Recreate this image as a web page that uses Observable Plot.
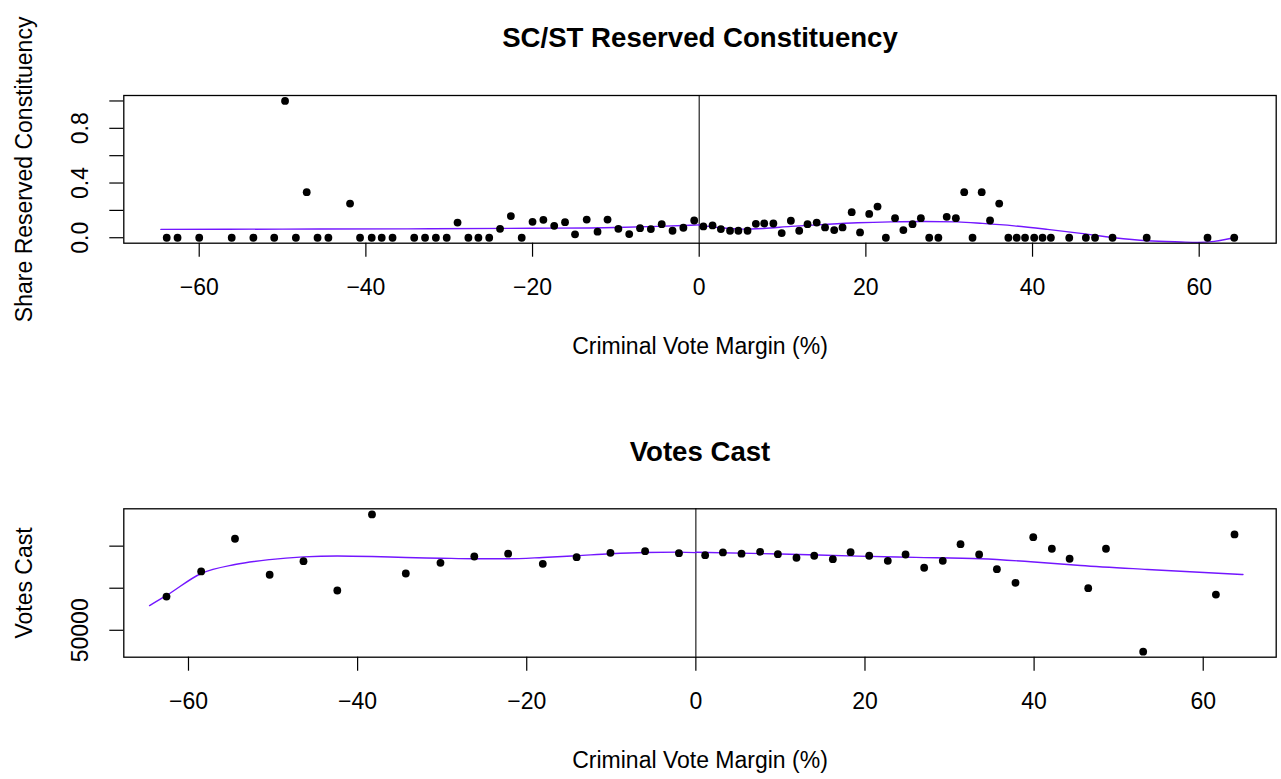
<!DOCTYPE html>
<html>
<head>
<meta charset="utf-8">
<script src="https://cdn.jsdelivr.net/npm/d3@7"></script>
<script src="https://cdn.jsdelivr.net/npm/@observablehq/plot@0.6"></script>
<style>
  html, body { margin: 0; padding: 0; background: #fff; }
  #chart svg { display: block; }
</style>
</head>
<body>
<div id="chart"></div>
<script>
// ---- Panel 1: share of SC/ST reserved constituencies by criminal vote margin ----
const shareMargin = [
  -63.9, -62.6, -60.0, -56.1, -53.5, -51.0, -49.7, -48.4, -47.1, -45.8, -44.5, -41.9,
  -40.7, -39.3, -38.1, -36.8, -34.2, -32.9, -31.6, -30.3, -29.0, -27.7, -26.5, -25.2,
  -23.9, -22.6, -21.3, -20.0, -18.7, -17.4, -16.1, -14.9, -13.5, -12.2, -11.0, -9.7,
  -8.4, -7.1, -5.8, -4.5, -3.2, -1.9, -0.6,
  0.5, 1.6, 2.6, 3.7, 4.7, 5.8, 6.8, 7.8, 8.9, 9.9, 11.0, 12.0, 13.0, 14.1, 15.1,
  16.2, 17.2, 18.3, 19.3, 20.4, 21.4, 22.4, 23.5, 24.5, 25.6, 26.6, 27.6, 28.7,
  29.7, 30.8, 31.8, 32.8, 33.9, 34.9, 36.0, 37.1, 38.1, 39.1, 40.2, 41.2, 42.2,
  44.4, 46.4, 47.5, 49.6, 53.7, 61.0, 64.2
];
const shareValue = [
  0, 0, 0, 0, 0, 0, 1.0, 0, 0.333, 0, 0, 0.25,
  0, 0, 0, 0, 0, 0, 0, 0, 0.111, 0, 0, 0,
  0.065, 0.158, 0, 0.116, 0.131, 0.087, 0.114, 0.025, 0.133, 0.044, 0.133, 0.065,
  0.027, 0.070, 0.063, 0.099, 0.051, 0.073, 0.126,
  0.083, 0.090, 0.063, 0.051, 0.051, 0.051, 0.102, 0.104, 0.104, 0.034, 0.124, 0.051, 0.099, 0.111, 0.075,
  0.056, 0.075, 0.187, 0.039, 0.174, 0.228, 0, 0.143, 0.056, 0.099, 0.143, 0, 0,
  0.153, 0.143, 0.333, 0, 0.333, 0.126, 0.25, 0, 0, 0, 0, 0, 0,
  0, 0, 0, 0, 0, 0, 0
];
// Smoothed fit, drawn separately on each side of the zero margin
const shareFitMargin = [-64.6, -50, -35, -20, -10, -5, 0,
                         0, 2.6, 5, 7.7, 11, 15, 19, 23, 27, 31, 34, 37.8, 41.8, 45.8, 49.8, 53.8, 57.8, 59.8, 61.8, 64.6];
const shareFitValue  = [0.061, 0.063, 0.065, 0.069, 0.075, 0.083, 0.094,
                         0.092, 0.073, 0.063, 0.068, 0.083, 0.097, 0.109, 0.116, 0.119, 0.116, 0.105, 0.087, 0.061, 0.032, 0.0, -0.022, -0.031, -0.034, -0.027, 0.005];
const shareFitSide   = ["L", "L", "L", "L", "L", "L", "L",
                         "R", "R", "R", "R", "R", "R", "R", "R", "R", "R", "R", "R", "R", "R", "R", "R", "R", "R", "R", "R"];
const shareTicks = [0, 0.2, 0.4, 0.6, 0.8, 1.0];
const shareTickLabels = ["0.0", "0.4", "0.8"];
const shareLabelledTicks = [0, 0.4, 0.8];

// ---- Panel 2: votes cast by criminal vote margin ----
const votesMargin = [
  -62.6, -58.5, -54.5, -50.4, -46.4, -42.4, -38.3, -34.3, -30.2, -26.2, -22.2, -18.1,
  -14.1, -10.1, -6.0, -2.0,
  1.1, 3.2, 5.4, 7.6, 9.7, 11.9, 14.0, 16.2, 18.3, 20.5, 22.7, 24.8, 27.0, 29.2,
  31.3, 33.5, 35.6, 37.8, 39.9, 42.1, 44.2, 46.4, 48.5, 52.9, 61.5, 63.7
];
const votesValue = [
  90100, 119900, 158800, 116000, 132100, 97300, 187700, 117500, 130200, 137700, 141000, 129000,
  136900, 142100, 144000, 141700,
  139300, 142500, 141000, 143300, 140500, 136200, 138600, 134500, 142900, 138600, 132600, 140100, 124300, 132600,
  152400, 140100, 122600, 106400, 160700, 146900, 135000, 100000, 146900, 24600, 92500, 163900
];
const votesFitMargin = [-64.6, -62.5, -58.5, -54.5, -50.4, -46.4, -42.4, -38.3, -34.3, -30.2, -26.2, -22.2, -18.1, -14.1, -10.1, -6.0, -2.0, 0,
                         0, 10, 19.1, 26, 33.7, 40, 45.5, 53.4, 64.7];
const votesFitValue  = [79400, 92000, 117500, 128200, 134000, 137200, 138300, 137700, 136500, 135700, 135000, 135000, 136500, 138600, 141000, 142500, 142900, 142300,
                         142700, 140700, 138100, 136700, 135000, 131200, 127000, 122300, 116300];
const votesFitSide   = ["L", "L", "L", "L", "L", "L", "L", "L", "L", "L", "L", "L", "L", "L", "L", "L", "L", "L",
                         "R", "R", "R", "R", "R", "R", "R", "R", "R"];
const votesTicks = [50000, 100000, 150000];
const votesTickLabels = ["50000"];
const votesLabelledTicks = [50000];

const marginTicks = [-60, -40, -20, 0, 20, 40, 60];

// ---- shared styling ----
const FONT = "'Liberation Sans', Arial, Helvetica, sans-serif";
const FIT_COLOR = "#7316ff";
const fmtMargin = d => (d < 0 ? "\u2212" : "") + Math.abs(d);

function panel({title, yLabel, points, fit, xDomain, yDomain, yTicks, yLabelled, yLabelText,
                height, marginTop, marginBottom}) {
  return Plot.plot({
    width: 1281,
    height,
    marginLeft: 123.3,
    marginRight: 5.3,
    marginTop,
    marginBottom,
    style: {fontFamily: FONT, fontSize: "23px", color: "black", background: "white"},
    x: {domain: xDomain},
    y: {domain: yDomain},
    marks: [
      Plot.ruleX([0], {stroke: "#222", strokeWidth: 1.2}),
      Plot.line(fit, {x: "x", y: "y", z: "side", stroke: FIT_COLOR, strokeWidth: 1.4, curve: "monotone-x"}),
      Plot.dot(points, {x: "x", y: "y", r: 3.9, fill: "black", stroke: null}),
      Plot.frame({stroke: "black", strokeWidth: 1.3}),
      Plot.axisX({ticks: marginTicks, tickFormat: fmtMargin, tickSize: 14, tickPadding: 21,
                  fontSize: 23, label: null, strokeWidth: 1.2}),
      Plot.axisY({ticks: yTicks, tickFormat: () => "", tickSize: 14, label: null, strokeWidth: 1.2}),
      Plot.text(yLabelled, {y: d => d, frameAnchor: "left", dx: -43.3, rotate: -90,
                            text: (d, i) => yLabelText[i], fontSize: 23, lineAnchor: "middle", textAnchor: "middle"}),
      Plot.text([yLabel], {frameAnchor: "left", dx: -99.5, rotate: -90, fontSize: 23,
                           lineAnchor: "middle", textAnchor: "middle"}),
      Plot.text(["Criminal Vote Margin (%)"], {frameAnchor: "bottom", dy: 103, fontSize: 23,
                                               lineAnchor: "middle", textAnchor: "middle"}),
      Plot.text([title], {frameAnchor: "top", dy: -57, fontSize: 27.6, fontWeight: "bold",
                          lineAnchor: "middle", textAnchor: "middle"})
    ]
  });
}

const sharePoints = shareMargin.map((m, i) => ({x: m, y: shareValue[i]}));
const shareFit = shareFitMargin.map((m, i) => ({x: m, y: shareFitValue[i], side: shareFitSide[i]}));
const votesPoints = votesMargin.map((m, i) => ({x: m, y: votesValue[i]}));
const votesFit = votesFitMargin.map((m, i) => ({x: m, y: votesFitValue[i], side: votesFitSide[i]}));

const root = document.getElementById("chart");
root.append(panel({
  title: "SC/ST Reserved Constituency",
  yLabel: "Share Reserved Constituency",
  points: sharePoints, fit: shareFit,
  xDomain: [-69.05, 69.24], yDomain: [-0.04, 1.04],
  yTicks: shareTicks, yLabelled: shareLabelledTicks, yLabelText: shareTickLabels,
  height: 414, marginTop: 95, marginBottom: 171.3
}));
root.append(panel({
  title: "Votes Cast",
  yLabel: "Votes Cast",
  points: votesPoints, fit: votesFit,
  xDomain: [-67.65, 68.63], yDomain: [18000, 194400],
  yTicks: votesTicks, yLabelled: votesLabelledTicks, yLabelText: votesTickLabels,
  height: 365, marginTop: 94.3, marginBottom: 122.3
}));
</script>
</body>
</html>
